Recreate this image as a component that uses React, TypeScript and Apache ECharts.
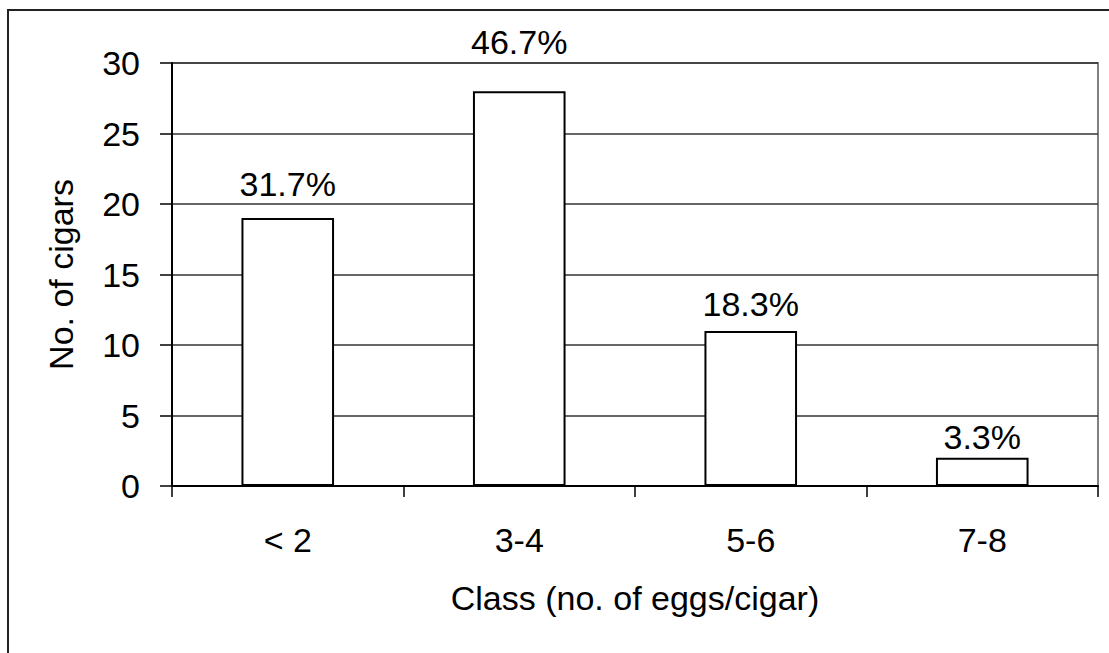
import React, { useEffect, useRef } from "react";
import * as echarts from "echarts";

// Egg-count classes and number of cigars in each
const classes = ["< 2", "3-4", "5-6", "7-8"];
const cigarCounts = [19, 28, 11, 2];
const shareLabels = ["31.7%", "46.7%", "18.3%", "3.3%"];
const yTicks = [0, 5, 10, 15, 20, 25, 30];

// gap (px) between each bar top and its percentage label
const labelGaps = [17, 32, 10, 4];

const FONT = "'Liberation Sans', Arial, sans-serif";

export default function App() {
  const ref = useRef<HTMLDivElement>(null);

  useEffect(() => {
    document.body.style.margin = "0";
    if (!ref.current) return;
    const chart = echarts.init(ref.current, null, { renderer: "svg" });

    const data = cigarCounts.map((v, i) => ({
      value: v,
      label: { distance: labelGaps[i], formatter: shareLabels[i] },
    }));

    chart.setOption({
      animation: false,
      backgroundColor: "#ffffff",
      textStyle: { fontFamily: FONT },
      graphic: [
        {
          type: "rect",
          shape: { x: 8, y: 10, width: 1300, height: 800 },
          style: { fill: "none", stroke: "#222", lineWidth: 2 },
          silent: true,
        },
      ],
      grid: {
        left: 172,
        top: 63,
        right: 11,
        bottom: 167,
        show: true,
        borderColor: "#808080",
        borderWidth: 2,
        backgroundColor: "transparent",
      },
      xAxis: {
        type: "category",
        data: classes,
        name: "Class (no. of eggs/cigar)",
        nameLocation: "middle",
        nameGap: 95,
        nameTextStyle: { fontSize: 34, color: "#000", fontFamily: FONT },
        axisLine: { lineStyle: { color: "#000", width: 2 } },
        axisTick: { show: true, length: 11, lineStyle: { color: "#000", width: 1.5 } },
        axisLabel: { fontSize: 34, color: "#000", margin: 37, fontFamily: FONT },
      },
      yAxis: {
        type: "value",
        min: yTicks[0],
        max: yTicks[yTicks.length - 1],
        interval: 5,
        name: "No. of cigars",
        nameLocation: "middle",
        nameGap: 94,
        nameTextStyle: { fontSize: 34, color: "#000", fontFamily: FONT },
        axisLine: { show: true, lineStyle: { color: "#000", width: 2 } },
        axisTick: { show: true, length: 12, lineStyle: { color: "#000", width: 1.5 } },
        axisLabel: { fontSize: 34, color: "#000", margin: 32, fontFamily: FONT },
        splitLine: { show: true, lineStyle: { color: "#333", width: 1.5 } },
      },
      series: [
        {
          type: "bar",
          data,
          barWidth: "40%",
          itemStyle: { color: "#ffffff", borderColor: "#000", borderWidth: 2 },
          label: {
            show: true,
            position: "top",
            fontSize: 34,
            color: "#000",
            fontFamily: FONT,
          },
        },
      ],
    });

    return () => chart.dispose();
  }, []);

  return <div ref={ref} style={{ width: 1109, height: 653 }} />;
}
